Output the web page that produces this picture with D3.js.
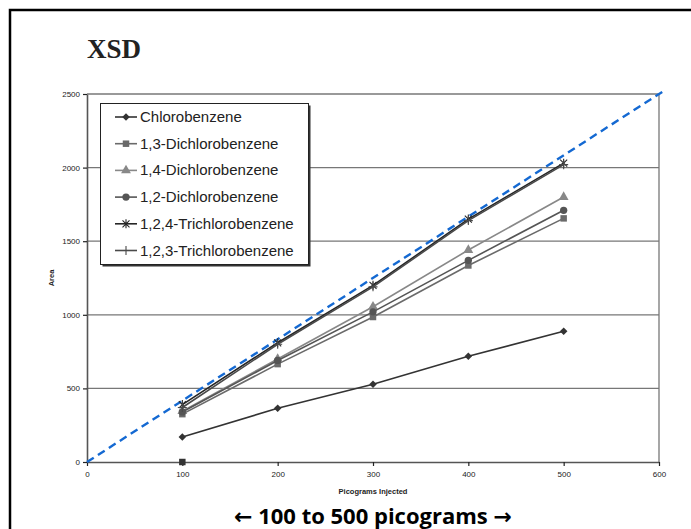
<!DOCTYPE html>
<html>
<head>
<meta charset="utf-8">
<script src="https://cdn.jsdelivr.net/npm/d3@7"></script>
<style>
  body { margin: 0; background: #fff; }
  svg { display: block; }
</style>
</head>
<body>
<div id="chart"></div>
<script>
// picograms injected
var xValues = [100, 200, 300, 400, 500];

var seriesNames = [
  "Chlorobenzene",
  "1,3-Dichlorobenzene",
  "1,4-Dichlorobenzene",
  "1,2-Dichlorobenzene",
  "1,2,4-Trichlorobenzene",
  "1,2,3-Trichlorobenzene"
];

var chlorobenzene = [170, 365, 528, 718, 888];
var dichloro13 = [325, 665, 985, 1335, 1655];
var dichloro14 = [345, 700, 1055, 1440, 1800];
var dichloro12 = [340, 690, 1020, 1370, 1710];
var trichloro124 = [390, 810, 1200, 1650, 2030];
var trichloro123 = [370, 800, 1190, 1640, 2020];

var seriesValues = [chlorobenzene, dichloro13, dichloro14, dichloro12, trichloro124, trichloro123];
var seriesColors = ["#333333", "#6a6a6a", "#888888", "#555555", "#262626", "#4a4a4a"];
var seriesSymbols = ["diamond", "square", "triangle", "circle", "cross", "plus"];

// odd single point sitting on the axis
var strayX = [100];
var strayY = [0];

// dashed reference line (start, end)
var refX = [0, 605];
var refY = [0, 2521];

var xTicks = [0, 100, 200, 300, 400, 500, 600];
var yTicks = [0, 500, 1000, 1500, 2000, 2500];

var width = 691, height = 529;

var svg = d3.select("#chart").append("svg")
  .attr("width", width)
  .attr("height", height);

svg.append("rect").attr("width", width).attr("height", height).attr("fill", "#fff");

// outer frame
svg.append("rect")
  .attr("x", 10).attr("y", 10)
  .attr("width", 700).attr("height", 540)
  .attr("fill", "none")
  .attr("stroke", "#000")
  .attr("stroke-width", 2.5);

var x = d3.scaleLinear().domain([0, 600]).range([87, 659]);
var y = d3.scaleLinear().domain([0, 2500]).range([462, 94]);

// title
svg.append("text")
  .attr("x", 87).attr("y", 58)
  .style("font-family", "'Liberation Serif', 'Times New Roman', serif")
  .style("font-weight", "bold")
  .style("font-size", "27px")
  .attr("fill", "#222")
  .text("XSD");

// gridlines
svg.append("g").selectAll("line")
  .data(yTicks.filter(d => d > 0))
  .join("line")
  .attr("x1", x(0)).attr("x2", x(600))
  .attr("y1", d => y(d)).attr("y2", d => y(d))
  .attr("stroke", "#777")
  .attr("stroke-width", 1.3);

// right border of plot
svg.append("line")
  .attr("x1", x(600)).attr("x2", x(600))
  .attr("y1", y(2500)).attr("y2", y(0))
  .attr("stroke", "#777")
  .attr("stroke-width", 1.3);

// axes
var xAxis = d3.axisBottom(x).tickValues(xTicks).tickFormat(d3.format("d"))
  .tickSize(4).tickSizeOuter(0).tickPadding(5);
var yAxis = d3.axisLeft(y).tickValues(yTicks).tickFormat(d3.format("d"))
  .tickSize(4).tickSizeOuter(0).tickPadding(3);

var gx = svg.append("g").attr("transform", "translate(0," + y(0) + ")").call(xAxis);
var gy = svg.append("g").attr("transform", "translate(" + x(0) + ",0)").call(yAxis);

[gx, gy].forEach(function (g) {
  g.select(".domain").attr("stroke", "#555").attr("stroke-width", 1.6);
  g.selectAll(".tick line").attr("stroke", "#222").attr("stroke-width", 1.2);
  g.selectAll(".tick text")
    .style("font-family", "'Liberation Sans', Arial, sans-serif")
    .style("font-size", "8px")
    .attr("fill", "#222");
});

// axis titles
svg.append("text")
  .attr("x", x(300)).attr("y", 494)
  .attr("text-anchor", "middle")
  .style("font-family", "'Liberation Sans', Arial, sans-serif")
  .style("font-weight", "bold")
  .style("font-size", "7.5px")
  .attr("fill", "#222")
  .text("Picograms Injected");

svg.append("text")
  .attr("transform", "translate(54," + y(1250) + ") rotate(-90)")
  .attr("text-anchor", "middle")
  .style("font-family", "'Liberation Sans', Arial, sans-serif")
  .style("font-weight", "bold")
  .style("font-size", "7.5px")
  .attr("fill", "#222")
  .text("Area");

// reference dashed line
svg.append("line")
  .attr("x1", x(refX[0])).attr("y1", y(refY[0]))
  .attr("x2", x(refX[1])).attr("y2", y(refY[1]))
  .attr("stroke", "#1469d2")
  .attr("stroke-width", 2.4)
  .attr("stroke-dasharray", "8,5");

function symbolPath(name, size) {
  var types = {
    diamond: d3.symbolDiamond2,
    square: d3.symbolSquare,
    triangle: d3.symbolTriangle,
    circle: d3.symbolCircle
  };
  return d3.symbol(types[name], size)();
}

function drawMarker(g, name, color, cx, cy) {
  var m = g.append("path")
    .attr("transform", "translate(" + cx + "," + cy + ")");
  if (name === "cross") {
    m.attr("d", "M-3.5,-3.5L3.5,3.5M-3.5,3.5L3.5,-3.5M0,-4.5L0,4.5")
      .attr("fill", "none").attr("stroke", color).attr("stroke-width", 1.1);
  } else if (name === "plus") {
    m.attr("d", "M-4.5,0L4.5,0M0,-4.5L0,4.5")
      .attr("fill", "none").attr("stroke", color).attr("stroke-width", 1.1);
  } else {
    var sz = name === "diamond" ? 36 : 42;
    m.attr("d", symbolPath(name, sz)).attr("fill", color);
  }
}

var line = d3.line()
  .x((d, i) => x(xValues[i]))
  .y(d => y(d));

var plot = svg.append("g");

seriesValues.forEach(function (vals, s) {
  plot.append("path")
    .attr("d", line(vals))
    .attr("fill", "none")
    .attr("stroke", seriesColors[s])
    .attr("stroke-width", 1.6);
  vals.forEach(function (v, i) {
    drawMarker(plot, seriesSymbols[s], seriesColors[s], x(xValues[i]), y(v));
  });
});

strayX.forEach(function (v, i) {
  drawMarker(plot, "square", "#333", x(v), y(strayY[i]));
});

// legend
var legend = svg.append("g");
legend.append("rect")
  .attr("x", 102.5).attr("y", 105.5)
  .attr("width", 208).attr("height", 161)
  .attr("fill", "#333");
legend.append("rect")
  .attr("x", 100.5).attr("y", 103.5)
  .attr("width", 208).attr("height", 161)
  .attr("fill", "#fff")
  .attr("stroke", "#222")
  .attr("stroke-width", 1);

seriesNames.forEach(function (name, i) {
  var ly = 117 + i * 26.7;
  legend.append("line")
    .attr("x1", 115).attr("x2", 137)
    .attr("y1", ly).attr("y2", ly)
    .attr("stroke", seriesColors[i])
    .attr("stroke-width", 1.6);
  drawMarker(legend, seriesSymbols[i], seriesColors[i], 126, ly);
  legend.append("text")
    .attr("x", 140).attr("y", ly + 5)
    .style("font-family", "'Liberation Sans', Arial, sans-serif")
    .style("font-size", "15px")
    .attr("fill", "#222")
    .text(name);
});

// caption with big arrows
var caption = svg.append("text")
  .attr("x", 373).attr("y", 524)
  .attr("text-anchor", "middle")
  .style("font-family", "'Open Sans', 'Noto Sans', sans-serif")
  .style("font-weight", "bold")
  .style("font-size", "22px")
  .attr("fill", "#000");
caption.append("tspan")
  .style("font-family", "'DejaVu Sans', sans-serif")
  .text("\u2190");
caption.append("tspan").text(" 100 to 500 picograms ");
caption.append("tspan")
  .style("font-family", "'DejaVu Sans', sans-serif")
  .text("\u2192");
</script>
</body>
</html>
